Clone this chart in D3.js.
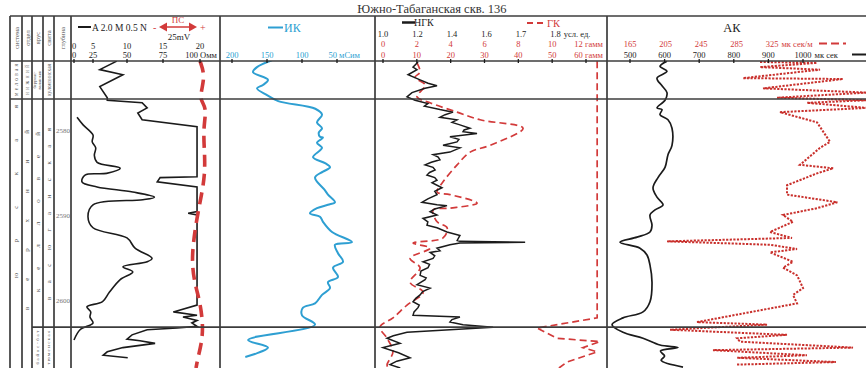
<!DOCTYPE html>
<html>
<head>
<meta charset="utf-8">
<script src="https://cdn.jsdelivr.net/npm/d3@7"></script>
<style>
  body { margin: 0; background: #fff; }
  svg { display: block; }
  text { font-family: "Liberation Serif", "Times New Roman", serif; }
</style>
</head>
<body>
<svg id="chart" width="866" height="368"></svg>
<script>
// ---------- well data: [depth m, value] ----------
const title = "Южно-Табаганская скв. 136";
const depthTicks = [2580, 2590, 2600];
const formationTops = [2576.35, 2603.2];

// resistivity, A 2.0 M 0.5 N, scale 0–20 Ohm·m (saturates at 20)
const resShort = [[2571.9,8.5],[2572.9,6.0],[2573.5,9.4],[2574.9,6.0],[2576.2,7.1],[2576.5,7.1],[2576.8,12.1],[2577.4,12.8],[2578.0,11.5],[2578.8,12.1],[2579.6,19.6],[2585.5,19.6],[2585.6,14.6],[2586.1,14.2],[2586.7,19.6],[2589.6,19.6],[2589.8,18.4],[2590.0,19.6],[2600.6,19.6],[2601.4,16.4],[2601.8,19.6],[2602.0,17.7],[2602.4,19.6],[2602.7,18.9],[2603.1,19.6],[2603.3,16.9],[2603.5,12.8],[2604.1,10.7],[2604.6,10.0],[2604.8,11.8],[2605.1,13.9],[2605.6,9.4],[2606.1,7.1],[2606.5,6.5],[2606.8,10.1]];
// same log on the 0–100 Ohm·m scale
const resLong = [[2578.5,4],[2579.4,12],[2580.6,25],[2581.4,24],[2582.1,27],[2583.0,26],[2583.8,28],[2584.5,45],[2585.1,35],[2585.3,14.5],[2586.1,10.5],[2586.7,28],[2587.3,54],[2587.9,69],[2588.2,61],[2588.8,25],[2590.2,18.4],[2591.5,25],[2592.7,50],[2593.9,55.6],[2595.1,67.4],[2595.5,64],[2596.1,47],[2596.7,54],[2597.6,45],[2599.1,37],[2600.2,32],[2600.8,17],[2601.4,22],[2602.0,21],[2602.7,25],[2603.5,8],[2604.7,0]];
// spontaneous potential, mV
const spValues = [[2571.9,25],[2573.5,28],[2575.3,26],[2576.5,25],[2577.4,29.4],[2579.8,26.9],[2582.9,28],[2585.3,28],[2587.6,26],[2590.4,23],[2593.5,20.6],[2595.9,20],[2598.2,21.9],[2600.2,25],[2602.9,26.9],[2604.9,26.2],[2606.8,23.7],[2608.0,22.5]];
// induction log, mS/m
const ikValues = [[2571.8,142.9],[2572.6,164.3],[2573.2,170],[2574.1,148.6],[2574.7,155.7],[2575.1,164.3],[2575.9,150],[2576.6,134],[2577.5,81],[2578.2,71.4],[2579.1,78.6],[2579.8,71.4],[2580.3,76],[2580.8,74.3],[2580.9,70],[2581.5,78.6],[2582.1,71.4],[2583.2,84.3],[2583.9,67.1],[2584.4,60],[2584.9,70],[2585.6,81.4],[2587.1,67.1],[2587.6,62.9],[2588.5,52.9],[2588.8,62.9],[2589.2,78.6],[2589.8,88.6],[2590.2,74.3],[2590.8,70],[2592.0,57.1],[2593.2,28.6],[2593.5,52.9],[2594.5,48.6],[2595.5,41.4],[2596.2,55.7],[2597.3,48.6],[2597.9,62.9],[2598.6,60],[2599.4,71.4],[2600.4,81.4],[2600.9,98.6],[2601.8,100],[2602.9,81.4],[2604.7,177],[2605.6,148.6],[2606.7,181]];
// neutron gamma log, conventional units
const ngkValues = [[2572.0,1.203],[2572.6,1.174],[2572.9,1.197],[2573.5,1.145],[2574.1,1.215],[2574.5,1.261],[2574.8,1.313],[2575.1,1.244],[2575.6,1.168],[2576.1,1.139],[2576.5,1.186],[2576.9,1.26],[2577.2,1.24],[2577.6,1.330],[2577.9,1.406],[2578.2,1.36],[2578.5,1.330],[2578.8,1.429],[2579.1,1.40],[2579.4,1.446],[2579.8,1.504],[2580.0,1.47],[2580.2,1.464],[2580.4,1.545],[2580.8,1.388],[2581.1,1.44],[2581.4,1.429],[2581.8,1.348],[2582.1,1.446],[2582.6,1.388],[2582.9,1.290],[2583.2,1.32],[2583.5,1.330],[2583.8,1.28],[2584.1,1.244],[2584.4,1.29],[2584.7,1.302],[2585.0,1.27],[2585.3,1.255],[2585.6,1.30],[2585.9,1.313],[2586.2,1.284],[2586.8,1.342],[2587.2,1.30],[2587.6,1.313],[2588.1,1.26],[2588.5,1.226],[2588.8,1.313],[2588.9,1.371],[2589.3,1.30],[2589.6,1.273],[2590.0,1.313],[2590.4,1.232],[2590.8,1.26],[2591.2,1.255],[2591.5,1.313],[2592.0,1.371],[2592.4,1.446],[2593.0,1.43],[2593.1,1.446],[2593.2,1.712],[2593.3,1.446],[2593.5,1.388],[2593.9,1.313],[2594.2,1.33],[2594.4,1.273],[2594.8,1.30],[2595.1,1.290],[2595.5,1.232],[2595.8,1.27],[2596.2,1.261],[2596.6,1.22],[2597.1,1.215],[2597.4,1.25],[2597.6,1.244],[2598.2,1.197],[2598.6,1.273],[2599.0,1.23],[2599.4,1.215],[2599.8,1.19],[2600.2,1.174],[2600.6,1.21],[2600.9,1.203],[2601.4,1.18],[2601.8,1.174],[2602.0,1.446],[2602.3,1.40],[2602.6,1.388],[2602.9,1.464],[2603.2,1.619],[2603.8,1.139],[2604.2,1.06],[2604.5,1.023],[2605.1,1.099],[2605.6,1.0],[2606.2,1.09],[2606.8,1.157],[2607.2,1.08],[2607.6,1.041],[2608.0,1.10]];
// gamma log, gamma (0–12 scale)
const gkValues = [[2572.1,2.01],[2573.2,2.19],[2573.8,1.89],[2574.7,2.49],[2576.1,2.01],[2576.8,2.78],[2577.9,4.38],[2578.8,5.74],[2579.8,8.28],[2581.8,6.33],[2582.6,5.15],[2584.1,4.38],[2586.1,3.55],[2587.3,3.20],[2587.6,3.96],[2588.6,5.56],[2589.2,3.96],[2589.4,2.96],[2590.8,3.20],[2591.5,3.79],[2592.7,3.55],[2593.3,1.78],[2593.9,2.78],[2595.1,1.60],[2596.2,2.19],[2597.9,1.60],[2599.1,2.37],[2600.6,1.42],[2602.1,0.59],[2603.2,-0.18],[2604.5,0.24],[2606.1,0.59],[2607.6,0.24],[2608.0,0.3]];
// gamma log, gamma (0–60 scale)
const gkWideValues = [[2571.9,63.3],[2602.1,63.3],[2603.3,45.5],[2604.5,51.4],[2604.9,64.1],[2605.6,59.1],[2606.1,63.3],[2607.3,54.4],[2608.0,52]];
// acoustic log, µs
const akSlowValues = [[2571.9,606.9],[2572.5,586.7],[2573.1,606.9],[2573.9,578],[2574.8,592.5],[2575.6,606.9],[2576.5,601.2],[2577.4,578],[2577.6,592.5],[2578.2,586.7],[2578.8,609.8],[2579.8,621.4],[2581.8,621.4],[2582.9,609.8],[2584.4,601.2],[2585.6,580.9],[2586.8,566.5],[2587.9,578],[2588.8,595.4],[2589.4,572.3],[2590.0,557.8],[2591.2,563.6],[2592.0,557.8],[2592.6,520.2],[2593.2,471.1],[2593.9,528.9],[2594.7,549.1],[2595.9,557.8],[2597.9,563.6],[2600.2,557.8],[2601.4,537.6],[2602.1,479.8],[2602.9,448],[2603.8,479.8],[2604.5,537.6],[2605.3,586.7],[2605.6,638.7],[2606.0,588],[2606.6,600],[2607.1,590],[2607.9,653.2]];
// acoustic log, µs/m
const akValues = [[2572.0,311.5],[2572.1,375.7],[2572.6,311.5],[2572.9,379.1],[2573.9,292.3],[2574.0,405],[2575.1,314.9],[2575.6,432],[2576.2,330.6],[2576.5,432],[2576.8,364.4],[2577.4,432],[2577.9,334],[2579.1,375.7],[2581.4,390.4],[2582.1,379.1],[2584.1,356.5],[2584.5,394.1],[2585.1,375.7],[2586.5,341.9],[2587.6,341.9],[2588.5,398.6],[2589.2,375.7],[2590.0,337.4],[2590.8,348.7],[2592.0,322.7],[2592.7,347.5],[2593.1,206.7],[2593.5,322.7],[2594.0,353.2],[2594.4,322.7],[2595.5,348.7],[2596.2,337.4],[2597.1,353.2],[2598.6,360],[2599.4,348.7],[2600.4,353.2],[2602.6,240.5],[2602.9,319.4],[2603.5,210.1],[2604.1,341.9],[2604.5,285.6],[2604.9,289],[2605.6,416.3],[2605.9,258.5],[2606.5,364.4],[2606.8,285.6],[2607.3,397],[2607.6,285.6]];

// ---------- scale labels ----------
const resTicksA = [0, 5, 10, 15, 20];
const resTicksB = [0, 25, 50, 75, 100];
const ikTicks = [200, 150, 100, 50];
const ngkTicks = [1.0, 1.2, 1.4, 1.6, 1.7, 1.8];
const gkTicks = [0, 2, 4, 6, 8, 10, 12];
const gkWideTicks = [0, 10, 20, 30, 40, 50, 60];
const akTicks = [165, 205, 245, 285, 325];
const akSlowTicks = [500, 600, 700, 800, 900, 1000];

// column headings
const colHeads = ["система", "отдел", "ярус", "свита", "глубина"];
const upperUnit = ["меловая", "нижний", "берриас-валанжин", "куломзинская"];
const mainUnit = ["юрская", "верхний", "келловей", "васюганская"];
const lowerUnit = ["байос-бат", "тюменская"];

// ---------- layout ----------
const svg = d3.select("#chart");
const colX = [10, 22, 32, 43, 54, 71];
const trackX = [71, 220, 375, 607, 866];
const frameTop = 16, headBottom = 61, frameBottom = 368;
const lineCol = "#3c3c3c", red = "#d23a3a", blue = "#2e9fd2", ink = "#1b1b1b";

const y = d3.scaleLinear().domain([2580, 2600]).range([130, 300]);

const resA = d3.scaleLinear().domain(resTicksA).range([74, 93, 127, 163, 200]);
const resB = d3.scaleLinear().domain(resTicksB).range([74, 93, 127, 163, 200]);
const sp = d3.scaleLinear().domain([0, 25]).range([160, 200]);
const ik = d3.scaleLinear().domain([200, 50]).range([232, 337]);
const ngk = d3.scaleLinear().domain(ngkTicks).range([383, 417.5, 452, 486.5, 521, 555.5]);
const gk = d3.scaleLinear().domain([0, 12]).range([383, 586]);
const gkWide = d3.scaleLinear().domain([0, 60]).range([383, 586]);
const ak = d3.scaleLinear().domain([165, 325]).range([630, 772]);
const akSlow = d3.scaleLinear().domain([500, 1000]).range([630, 803]);

// title
svg.append("text").attr("x", 432).attr("y", 13).attr("text-anchor", "middle")
  .attr("font-size", 12.5).attr("fill", "#333").text(title);

// ---------- curves ----------
const plot = svg.append("g");
plot.append("clipPath").attr("id", "area").append("rect")
  .attr("x", 10).attr("y", headBottom).attr("width", 856).attr("height", frameBottom - headBottom);
const curves = plot.append("g").attr("clip-path", "url(#area)");

function curve(data, xs, style, shape) {
  const gen = d3.line().x(d => xs(d[1])).y(d => y(d[0])).curve(shape || d3.curveLinear);
  const p = curves.append("path").datum(data).attr("d", gen).attr("fill", "none");
  Object.entries(style).forEach(([k, v]) => p.attr(k, v));
}

curve(akValues, ak, {stroke: "#c9302c", "stroke-width": 2, "stroke-dasharray": "2.2,1.4"});
curve(gkWideValues, gkWide, {stroke: red, "stroke-width": 1.7, "stroke-dasharray": "7,4"});
curve(gkValues, gk, {stroke: red, "stroke-width": 1.7, "stroke-dasharray": "7,4"}, d3.curveCatmullRom);
curve(ngkValues, ngk, {stroke: ink, "stroke-width": 1.5});
curve(akSlowValues, akSlow, {stroke: ink, "stroke-width": 1.7}, d3.curveCatmullRom);
curve(ikValues, ik, {stroke: blue, "stroke-width": 2}, d3.curveCatmullRom);
curve(resLong, resB, {stroke: ink, "stroke-width": 1.6}, d3.curveCatmullRom);
curve(resShort, resA, {stroke: ink, "stroke-width": 1.6});
curve(spValues, sp, {stroke: red, "stroke-width": 3.6, "stroke-dasharray": "12,7"}, d3.curveBasis);

// ---------- grid ----------
const grid = svg.append("g").attr("stroke", lineCol).attr("stroke-width", 1.7);
grid.append("line").attr("x1", 10).attr("x2", 866).attr("y1", frameTop).attr("y2", frameTop);
grid.append("line").attr("x1", 10).attr("x2", 866).attr("y1", headBottom).attr("y2", headBottom);
grid.append("line").attr("x1", 10).attr("x2", 866)
  .attr("y1", y(formationTops[0])).attr("y2", y(formationTops[0]));
grid.append("line").attr("x1", colX[2]).attr("x2", 866)
  .attr("y1", y(formationTops[1])).attr("y2", y(formationTops[1]));
colX.concat(trackX.slice(1, 4)).forEach(x =>
  grid.append("line").attr("x1", x).attr("x2", x).attr("y1", frameTop).attr("y2", frameBottom));

// ---------- column texts ----------
const txt = svg.append("g").attr("fill", "#555");
function vtext(cx, cy, s, size, len) {
  const t = txt.append("text").attr("transform", `translate(${cx},${cy}) rotate(-90)`)
    .attr("text-anchor", "middle").attr("dominant-baseline", "central")
    .attr("font-size", size).text(s);
  if (len) t.attr("textLength", len).attr("lengthAdjust", "spacing");
  return t;
}
colHeads.forEach((s, i) => vtext((colX[i] + colX[i + 1]) / 2, 38, s, 6.5));
const upMid = (headBottom + y(formationTops[0])) / 2;
vtext(16, upMid, upperUnit[0], 5.2, 32);
vtext(27, upMid, upperUnit[1], 5.2, 30);
txt.append("text").attr("transform", `translate(37.5,${upMid}) rotate(-90)`).attr("text-anchor", "middle")
  .attr("font-size", 4.6).selectAll("tspan").data(["берриас-", "валанжин"]).join("tspan")
  .attr("x", 0).attr("dy", (d, i) => i ? 4.6 : -1.2).text(d => d);
vtext(48.5, upMid, upperUnit[3], 5.2, 32);
const mainSpan = [[105, 278], [130, 310], [132, 292], [128, 300]];
mainUnit.forEach((s, i) => vtext((colX[i] + colX[i + 1]) / 2, (mainSpan[i][0] + mainSpan[i][1]) / 2,
  s, 7, mainSpan[i][1] - mainSpan[i][0]));
const lowMid = (y(formationTops[1]) + frameBottom) / 2;
vtext(37.5, lowMid, lowerUnit[0], 4.8, 34);
vtext(48.5, lowMid, lowerUnit[1], 4.8, 34);
depthTicks.forEach(d => txt.append("text").attr("x", 70).attr("y", y(d) + 2.5)
  .attr("text-anchor", "end").attr("font-size", 7).attr("fill", "#777").text(d));

// ---------- scale rows ----------
// opts.endX: the last label and its unit are right-aligned at this x
function scaleRow(scale, ticks, yy, color, opts = {}) {
  const fmt = opts.fmt || (v => String(v));
  const g = svg.append("g").attr("fill", color).attr("font-size", 8.5);
  ticks.forEach((v, i) => {
    const last = i === ticks.length - 1;
    if (last && opts.unit && opts.endX) {
      g.append("text").attr("x", opts.endX).attr("y", yy).attr("text-anchor", "end").text(fmt(v) + " " + opts.unit);
    } else {
      const t = g.append("text").attr("x", scale(v)).attr("y", yy).attr("text-anchor", "middle").text(fmt(v));
      if (last && opts.unit) {
        const w = t.node().getComputedTextLength();
        g.append("text").attr("x", scale(v) + w / 2 + 3).attr("y", yy).text(opts.unit);
      }
    }
    if (opts.ticks) svg.append("line").attr("x1", scale(v)).attr("x2", scale(v))
      .attr("y1", headBottom - 2).attr("y2", headBottom + 2).attr("stroke", ink).attr("stroke-width", 1.3);
  });
}
scaleRow(resA, resTicksA, 49, ink);
scaleRow(resB, resTicksB, 57.5, ink, {unit: "Омм", ticks: true, endX: 217});
scaleRow(ik, ikTicks, 57.5, blue, {unit: "мСим", ticks: true, endX: 360});

scaleRow(ngk, ngkTicks, 37, ink, {unit: "усл. ед.", fmt: d3.format(".1f")});
scaleRow(gk, gkTicks, 47, red, {unit: "гамм", endX: 603});
scaleRow(gkWide, gkWideTicks, 57.5, red, {unit: "гамм", endX: 603, ticks: true});

scaleRow(ak, akTicks, 46.5, red, {unit: "мк сек/м"});
scaleRow(akSlow, akSlowTicks, 57.5, ink, {unit: "мк сек", ticks: true});

// ---------- legends ----------
const lg = svg.append("g");
lg.append("line").attr("x1", 78).attr("x2", 91).attr("y1", 27).attr("y2", 27).attr("stroke", ink).attr("stroke-width", 2);
lg.append("text").attr("x", 92).attr("y", 30.5).attr("font-size", 9.5).attr("fill", "#222").text("A 2.0 M 0.5 N");
lg.append("text").attr("x", 153).attr("y", 30.5).attr("font-size", 10).attr("fill", red).text("-");
lg.append("line").attr("x1", 164).attr("x2", 192).attr("y1", 27).attr("y2", 27).attr("stroke", red).attr("stroke-width", 1.5);
lg.append("path").attr("d", "M159,27 L167,22.5 L167,31.5 Z").attr("fill", red);
lg.append("path").attr("d", "M197,27 L189,22.5 L189,31.5 Z").attr("fill", red);
lg.append("text").attr("x", 178).attr("y", 23).attr("text-anchor", "middle").attr("font-size", 9).attr("fill", red).text("ПС");
lg.append("text").attr("x", 200).attr("y", 30.5).attr("font-size", 10).attr("fill", red).text("+");
lg.append("text").attr("x", 179).attr("y", 39.5).attr("text-anchor", "middle").attr("font-size", 9).attr("fill", "#222").text("25mV");

lg.append("line").attr("x1", 268).attr("x2", 283).attr("y1", 27.5).attr("y2", 27.5).attr("stroke", blue).attr("stroke-width", 2);
lg.append("text").attr("x", 284).attr("y", 31.5).attr("font-size", 12).attr("fill", blue).text("ИК");

lg.append("line").attr("x1", 402).attr("x2", 415).attr("y1", 22.5).attr("y2", 22.5).attr("stroke", ink).attr("stroke-width", 2.5);
lg.append("text").attr("x", 414).attr("y", 26).attr("font-size", 10).attr("fill", "#222").text("НГК");
lg.append("line").attr("x1", 527).attr("x2", 546).attr("y1", 23).attr("y2", 23).attr("stroke", red)
  .attr("stroke-width", 2).attr("stroke-dasharray", "6,4");
lg.append("text").attr("x", 547).attr("y", 27).attr("font-size", 10.5).attr("fill", red).text("ГК");

lg.append("text").attr("x", 732).attr("y", 31.5).attr("text-anchor", "middle").attr("font-size", 12.5).attr("fill", "#222").text("АК");
lg.append("line").attr("x1", 819).attr("x2", 846).attr("y1", 43.5).attr("y2", 43.5).attr("stroke", red)
  .attr("stroke-width", 2).attr("stroke-dasharray", "8,4");
lg.append("line").attr("x1", 852).attr("x2", 866).attr("y1", 54.5).attr("y2", 54.5).attr("stroke", ink).attr("stroke-width", 2);
</script>
</body>
</html>
